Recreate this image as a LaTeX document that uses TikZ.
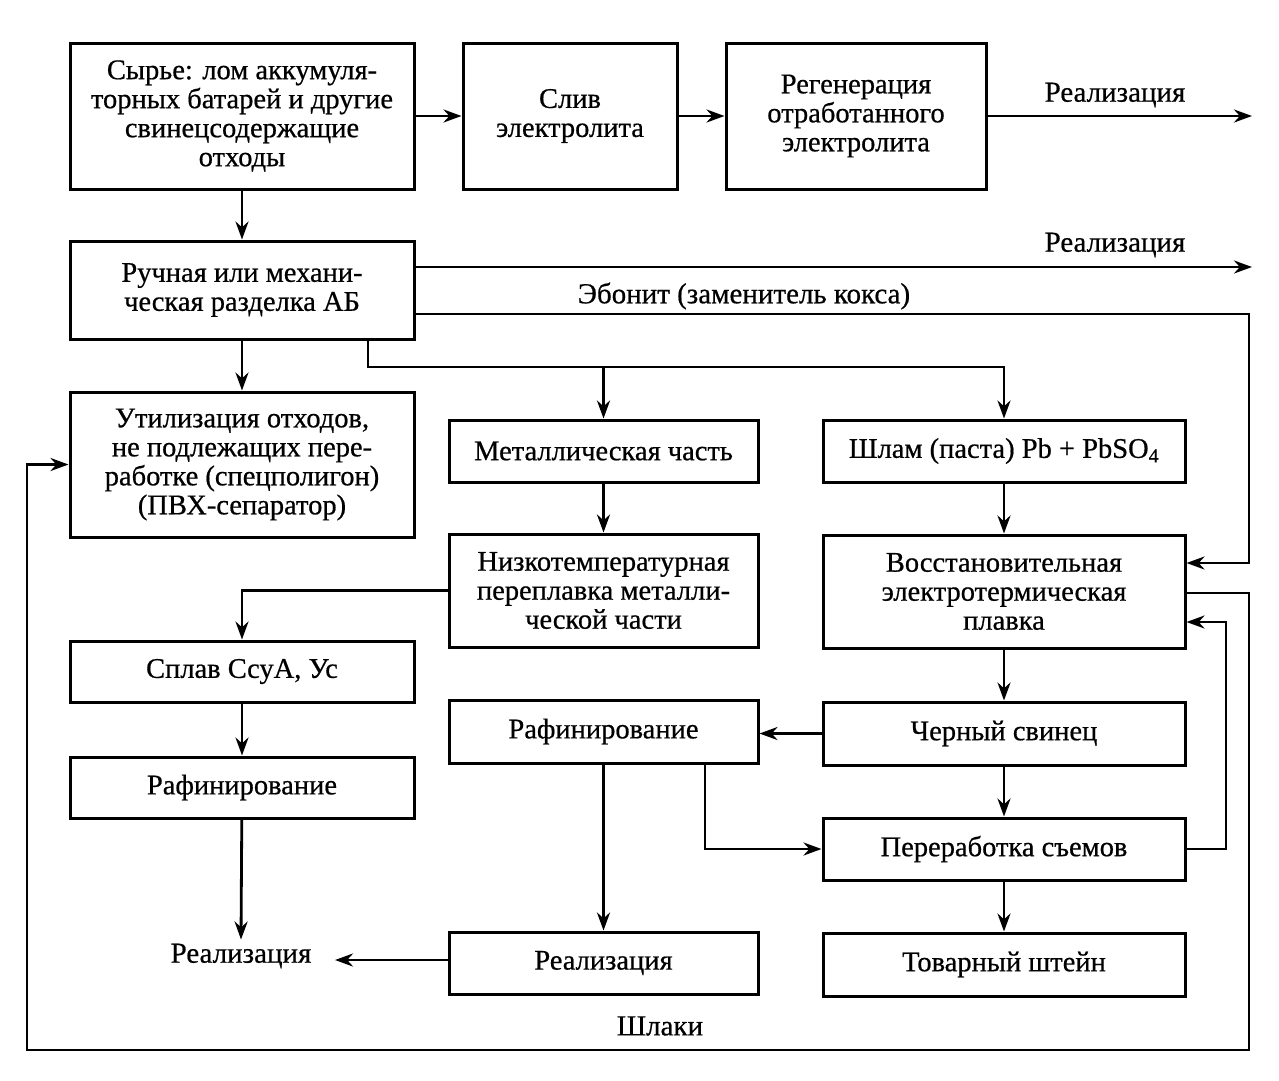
\documentclass[tikz,border=0pt]{standalone}
\usepackage{fontspec}
\setmainfont[FakeBold=0.6]{Liberation Serif}
\usetikzlibrary{arrows.meta}
\begin{document}
\begin{tikzpicture}[x=1pt,y=-1pt,
  box/.style={draw, line width=3pt, align=center, inner sep=0pt,
    font=\fontsize{28.5}{29}\selectfont},
  lbl/.style={align=center, inner sep=4pt, font=\fontsize{29}{29}\selectfont},
  arr/.style={line width=2.8pt, -{Stealth[length=18pt,width=13pt]}},
  ln/.style={line width=2.8pt}]
\useasboundingbox (0,0) rectangle (1279,1080);
% boxes
\node[box, minimum width=344pt, minimum height=146pt] (syr) at (242,116)
  {Сырье: лом аккумуля-\\торных батарей и другие\\свинецсодержащие\\отходы};
\node[box, minimum width=214pt, minimum height=146pt] (sliv) at (570,116)
  {Слив\\электролита};
\node[box, minimum width=260pt, minimum height=146pt] (regen) at (856,116)
  {Регенерация\\отработанного\\электролита};
\node[box, minimum width=344pt, minimum height=98pt] (ruch) at (242,290)
  {Ручная или механи-\\ческая разделка АБ};
\node[box, minimum width=344pt, minimum height=145pt] (util) at (242,464.5)
  {Утилизация отходов,\\не подлежащих пере-\\работке (спецполигон)\\(ПВХ-сепаратор)};
\node[box, minimum width=309pt, minimum height=62pt] (metal) at (603.5,451)
  {Металлическая часть};
\node[box, minimum width=362pt, minimum height=62pt] (shlam) at (1004,451)
  {Шлам (паста) Pb + PbSO\textsubscript{4}};
\node[box, minimum width=309pt, minimum height=113pt] (nizko) at (603.5,590.5)
  {Низкотемпературная\\переплавка металли-\\ческой части};
\node[box, minimum width=362pt, minimum height=113pt] (vosst) at (1004,591.5)
  {Восстановительная\\электротермическая\\плавка};
\node[box, minimum width=344pt, minimum height=61pt] (splav) at (242,671.5)
  {Сплав СсуА, Ус};
\node[box, minimum width=344pt, minimum height=61pt] (rafL) at (242,787.5)
  {Рафинирование};
\node[box, minimum width=309pt, minimum height=63pt] (rafM) at (603.5,731.5)
  {Рафинирование};
\node[box, minimum width=362pt, minimum height=63pt] (cherny) at (1004,733.5)
  {Черный свинец};
\node[box, minimum width=362pt, minimum height=62pt] (perer) at (1004,849)
  {Переработка съемов};
\node[box, minimum width=309pt, minimum height=62pt] (realbox) at (603.5,963)
  {Реализация};
\node[box, minimum width=362pt, minimum height=63pt] (tovar) at (1004,964.5)
  {Товарный штейн};
% plain labels
\node[lbl] (real1) at (1115,95) {Реализация};
\node[lbl] (real2) at (1115,245) {Реализация};
\node[lbl] (ebon) at (744,296) {Эбонит (заменитель кокса)};
\node[lbl] (real3) at (241,956) {Реализация};
\node[lbl] (shlaki) at (660,1026) {Шлаки};
% coordinates
\coordinate (r1end) at (1252,116);
\coordinate (r2end) at (1252,267);
\coordinate (eb1) at (1249,314);
\coordinate (j1) at (368,367);
\coordinate (p1) at (1226,849);
\coordinate (s1) at (1249,593);
\coordinate (s2) at (1249,1050);
\coordinate (s3) at (27,1050);
\coordinate (rm1) at (705,849);
\coordinate (r3end) at (335,960);
% connectors
\draw[arr] (syr) -- (sliv);
\draw[arr] (sliv) -- (regen);
\draw[arr] (regen.east) -- (r1end);
\draw[arr] (syr) -- (ruch);
\draw[arr] (ruch) -- (util);
\draw[arr] (ruch.east |- r2end) -- (r2end);
\draw[arr] (ruch.east |- eb1) -- (eb1) |- (vosst.east |- 0,563);
\draw[arr] (ruch.south -| j1) -- (j1) -| (shlam.north);
\draw[arr] (metal.north |- j1) -- (metal.north);
\draw[arr] (metal) -- (nizko);
\draw[arr] (shlam) -- (vosst);
\draw[arr] (nizko.west) -| (splav.north);
\draw[arr] (splav) -- (rafL);
\draw[arr] (rafL) -- (real3.north);
\draw[arr] (vosst) -- (cherny);
\draw[arr] (cherny.west) -- (rafM.east |- cherny.west);
\draw[arr] (rafM.south -| rm1) -- (rm1) -- (perer.west);
\draw[arr] (rafM) -- (realbox);
\draw[arr] (realbox.west |- r3end) -- (r3end);
\draw[arr] (cherny) -- (perer);
\draw[arr] (perer) -- (tovar);
\draw[arr] (perer.east) -- (p1) |- (vosst.east |- 0,622);
\draw[arr] (vosst.east |- s1) -- (s1) -- (s2) -- (s3) |- (util.west);
\end{tikzpicture}
\end{document}
